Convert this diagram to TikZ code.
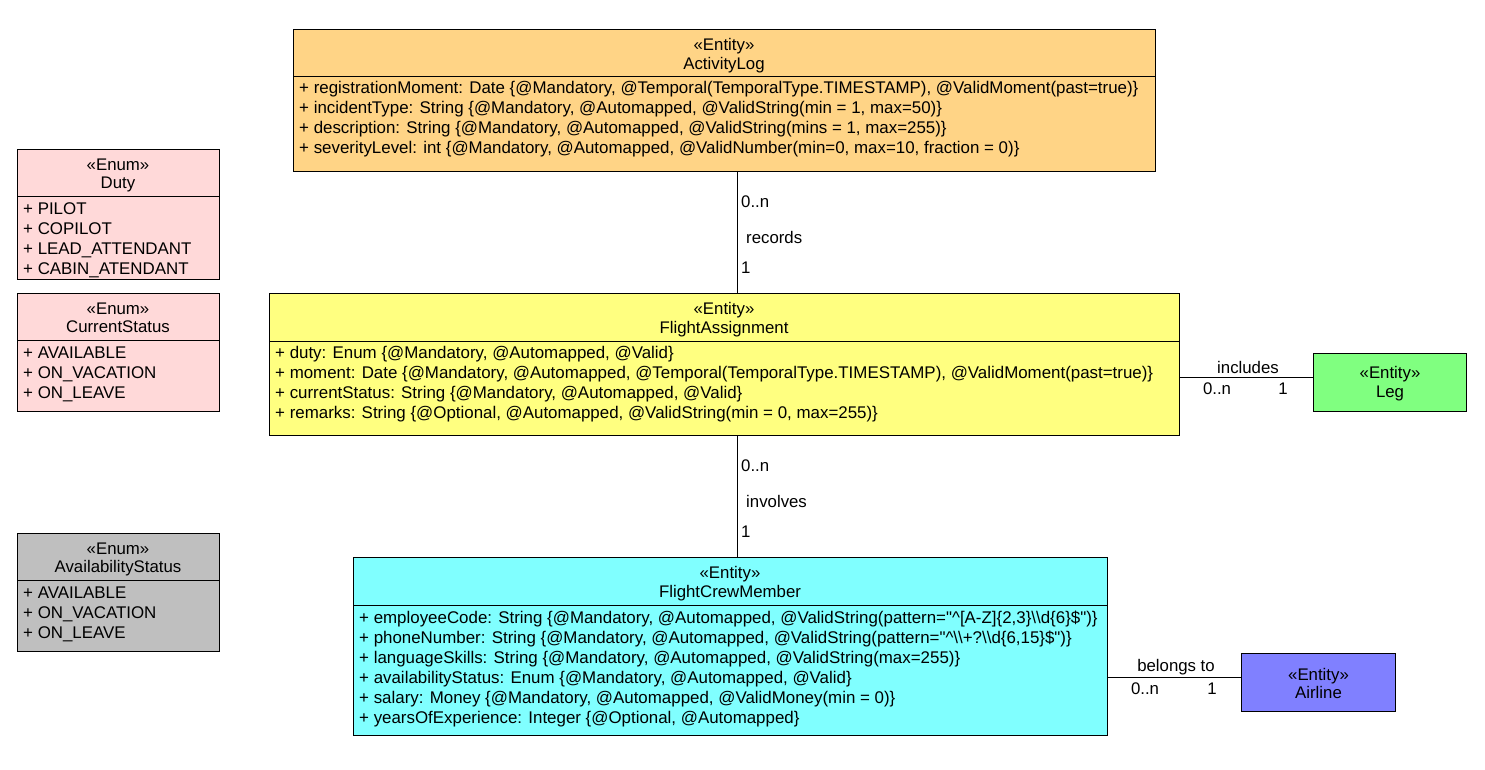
\documentclass[tikz,border=0pt]{standalone}
\usepackage{fontspec}
\setmainfont{Liberation Sans}[Ligatures=TeXOff]
\newcommand{\qd}{\char34\relax}
\definecolor{cOrange}{HTML}{FFD486}
\definecolor{cYellow}{HTML}{FFFF80}
\definecolor{cCyan}{HTML}{80FFFF}
\definecolor{cGreen}{HTML}{80FF80}
\definecolor{cBlue}{HTML}{8080FF}
\definecolor{cPink}{HTML}{FFD9D9}
\definecolor{cGray}{HTML}{BFBFBF}
\tikzset{
  umlbox/.style={draw=black, line width=1pt, rectangle, inner sep=0pt, anchor=north west},
  hdr/.style={anchor=north, inner sep=0pt, align=center, font=\fontsize{16.8}{18.5}\selectfont},
  attr/.style={anchor=north west, inner sep=0pt, align=left, font=\fontsize{16.9}{20}\selectfont},
  lbl/.style={inner sep=0pt, font=\fontsize{16.8}{18}\selectfont},
  conn/.style={draw=black, line width=1pt},
}
\begin{document}
\begin{tikzpicture}[x=1pt,y=-1pt]
\useasboundingbox (0,0) rectangle (1485,769);
% ActivityLog
\node[umlbox, fill=cOrange, minimum width=862pt, minimum height=142pt] (al) at (293,29) {};
\node[hdr] (alh) at (724,38.5) {«Entity»\\ActivityLog};
\draw[line width=1pt] (293,76) -- (1155,76);
\node[attr] (ala) at (299,81.5) {+ registrationMoment: Date \{@Mandatory, @Temporal(TemporalType.TIMESTAMP), @ValidMoment(past=true)\}\\
+ incidentType: String \{@Mandatory, @Automapped, @ValidString(min = 1, max=50)\}\\
+ description: String \{@Mandatory, @Automapped, @ValidString(mins = 1, max=255)\}\\
+ severityLevel: int \{@Mandatory, @Automapped, @ValidNumber(min=0, max=10, fraction = 0)\}};
% FlightAssignment
\node[umlbox, fill=cYellow, minimum width=910pt, minimum height=142pt] (fa) at (269,293) {};
\node[hdr] (fah) at (724,302.5) {«Entity»\\FlightAssignment};
\draw[line width=1pt] (269,341) -- (1179,341);
\node[attr] (faa) at (275,346.5) {+ duty: Enum \{@Mandatory, @Automapped, @Valid\}\\
+ moment: Date \{@Mandatory, @Automapped, @Temporal(TemporalType.TIMESTAMP), @ValidMoment(past=true)\}\\
+ currentStatus: String \{@Mandatory, @Automapped, @Valid\}\\
+ remarks: String \{@Optional, @Automapped, @ValidString(min = 0, max=255)\}};
% FlightCrewMember
\node[umlbox, fill=cCyan, minimum width=754pt, minimum height=178pt] (fc) at (353,557) {};
\node[hdr] (fch) at (730,566.5) {«Entity»\\FlightCrewMember};
\draw[line width=1pt] (353,605) -- (1107,605);
\node[attr] (fca) at (359,610.5) {+ employeeCode: String \{@Mandatory, @Automapped, @ValidString(pattern=\qd\textasciicircum[A-Z]\{2,3\}\textbackslash\textbackslash d\{6\}\$\qd)\}\\
+ phoneNumber: String \{@Mandatory, @Automapped, @ValidString(pattern=\qd\textasciicircum\textbackslash\textbackslash+?\textbackslash\textbackslash d\{6,15\}\$\qd)\}\\
+ languageSkills: String \{@Mandatory, @Automapped, @ValidString(max=255)\}\\
+ availabilityStatus: Enum \{@Mandatory, @Automapped, @Valid\}\\
+ salary: Money \{@Mandatory, @Automapped, @ValidMoney(min = 0)\}\\
+ yearsOfExperience: Integer \{@Optional, @Automapped\}};
% Leg
\node[umlbox, fill=cGreen, minimum width=153pt, minimum height=58pt] (leg) at (1313,353) {};
\node[hdr] (legh) at ([yshift=-1pt]leg.center) [anchor=center] {«Entity»\\Leg};
% Airline
\node[umlbox, fill=cBlue, minimum width=154pt, minimum height=58pt] (air) at (1241,653) {};
\node[hdr] (airh) at ([yshift=-1pt]air.center) [anchor=center] {«Entity»\\Airline};
% Duty
\node[umlbox, fill=cPink, minimum width=202pt, minimum height=130pt] (du) at (17,149) {};
\node[hdr] (duh) at (118,158.5) {«Enum»\\Duty};
\draw[line width=1pt] (17,196) -- (219,196);
\node[attr] (dua) at (23,202.5) {+ PILOT\\+ COPILOT\\+ LEAD\_ATTENDANT\\+ CABIN\_ATENDANT};
% CurrentStatus
\node[umlbox, fill=cPink, minimum width=202pt, minimum height=118pt] (cs) at (17,293) {};
\node[hdr] (csh) at (118,302.5) {«Enum»\\CurrentStatus};
\draw[line width=1pt] (17,340) -- (219,340);
\node[attr] (csa) at (23,346.5) {+ AVAILABLE\\+ ON\_VACATION\\+ ON\_LEAVE};
% AvailabilityStatus
\node[umlbox, fill=cGray, minimum width=202pt, minimum height=118pt] (as) at (17,533) {};
\node[hdr] (ash) at (118,542.5) {«Enum»\\AvailabilityStatus};
\draw[line width=1pt] (17,580) -- (219,580);
\node[attr] (asa) at (23,586.5) {+ AVAILABLE\\+ ON\_VACATION\\+ ON\_LEAVE};
% connectors
\draw[conn] (al.south -| 737,0) -- (fa.north -| 737,0);
\draw[conn] (fa.south -| 737,0) -- (fc.north -| 737,0);
\draw[conn] (fa.east |- 0,377) -- (leg.west |- 0,377);
\draw[conn] (fc.east |- 0,677) -- (air.west |- 0,677);
% labels
\node[lbl, anchor=west] (l1) at (741,202) {0..n};
\node[lbl, anchor=west] (l2) at (746,237) {records};
\node[lbl, anchor=west] (l3) at (741,268) {1};
\node[lbl, anchor=west] (l4) at (741,466) {0..n};
\node[lbl, anchor=west] (l5) at (746,501) {involves};
\node[lbl, anchor=west] (l6) at (741,532) {1};
\node[lbl] (l7) at (1248,367) {includes};
\node[lbl] (l8) at (1217,389) {0..n};
\node[lbl] (l9) at (1283,389) {1};
\node[lbl] (l10) at (1176,667) {belongs to};
\node[lbl] (l11) at (1145,689) {0..n};
\node[lbl] (l12) at (1212,689) {1};
\end{tikzpicture}
\end{document}
